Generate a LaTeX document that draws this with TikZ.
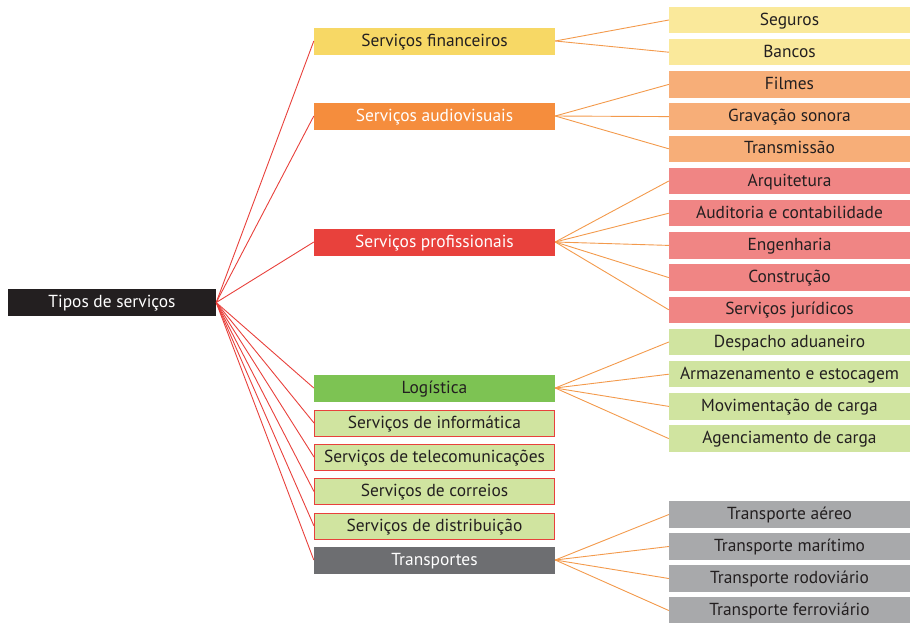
\documentclass[tikz,border=0pt]{standalone}
\usepackage{fontspec}
\setmainfont{PT Sans}
\definecolor{rootc}{HTML}{231F20}
\definecolor{finc}{HTML}{F7D865}
\definecolor{finl}{HTML}{FAE99B}
\definecolor{audc}{HTML}{F58D3D}
\definecolor{audl}{HTML}{F7AE78}
\definecolor{proc}{HTML}{E8413C}
\definecolor{prol}{HTML}{F08584}
\definecolor{logc}{HTML}{7DC353}
\definecolor{logl}{HTML}{D0E4A0}
\definecolor{trac}{HTML}{6D6E71}
\definecolor{tral}{HTML}{A8A9AB}
\definecolor{redline}{HTML}{E8413C}
\definecolor{orline}{HTML}{F39A4C}
\definecolor{txt}{HTML}{231F20}
\begin{document}
\begin{tikzpicture}[x=1pt,y=-1pt,
  box/.style={inner sep=0pt,minimum height=27pt,font=\fontsize{17.4}{19}\selectfont,text=txt,text height=11pt,text depth=1pt},
  rootbox/.style={box,minimum width=208pt,fill=rootc,text=white},
  midbox/.style={box,minimum width=241pt},
  lgbox/.style={midbox,fill=logl,draw=redline,line width=1pt,minimum width=240pt,minimum height=26pt},
  leafbox/.style={box,minimum width=241pt,minimum height=26.5pt},
  redlink/.style={draw=redline,line width=0.9pt},
  orlink/.style={draw=orline,line width=0.9pt}]
\useasboundingbox (0,0) rectangle (910,622);
\node[rootbox] (root) at (112,302.5) {Tipos de serviços};
% middle column
\node[midbox,fill=finc] (fin) at (434.5,41) {Serviços financeiros};
\node[midbox,fill=audc,text=white] (aud) at (434.5,116) {Serviços audiovisuais};
\node[midbox,fill=proc,text=white] (pro) at (434.5,242) {Serviços profissionais};
\node[midbox,fill=logc] (log) at (434.5,388) {Logística};
\node[lgbox] (inf) at (434.5,423) {Serviços de informática};
\node[lgbox] (tel) at (434.5,457) {Serviços de telecomunicações};
\node[lgbox] (cor) at (434.5,491.5) {Serviços de correios};
\node[lgbox] (dis) at (434.5,526) {Serviços de distribuição};
\node[midbox,fill=trac,text=white] (tra) at (434.5,560) {Transportes};
% leaves
\node[leafbox,fill=finl] (seg) at (789.5,20) {Seguros};
\node[leafbox,fill=finl] (ban) at (789.5,52.2) {Bancos};
\node[leafbox,fill=audl] (fil) at (789.5,84.4) {Filmes};
\node[leafbox,fill=audl] (gra) at (789.5,116.6) {Gravação sonora};
\node[leafbox,fill=audl] (trm) at (789.5,148.8) {Transmissão};
\node[leafbox,fill=prol] (arq) at (789.5,181) {Arquitetura};
\node[leafbox,fill=prol] (aud2) at (789.5,213.2) {Auditoria e contabilidade};
\node[leafbox,fill=prol] (eng) at (789.5,245.4) {Engenharia};
\node[leafbox,fill=prol] (con) at (789.5,277.6) {Construção};
\node[leafbox,fill=prol] (jur) at (789.5,309.8) {Serviços jurídicos};
\node[leafbox,fill=logl] (des) at (789.5,342) {Despacho aduaneiro};
\node[leafbox,fill=logl] (arm) at (789.5,374.2) {Armazenamento e estocagem};
\node[leafbox,fill=logl] (mov) at (789.5,406.4) {Movimentação de carga};
\node[leafbox,fill=logl] (age) at (789.5,438.6) {Agenciamento de carga};
\node[leafbox,fill=tral] (aer) at (789.5,514.5) {Transporte aéreo};
\node[leafbox,fill=tral] (mar) at (789.5,546.5) {Transporte marítimo};
\node[leafbox,fill=tral] (rod) at (789.5,578.5) {Transporte rodoviário};
\node[leafbox,fill=tral] (fer) at (789.5,610.5) {Transporte ferroviário};
% red links
\foreach \m in {fin,aud,pro,log,inf,tel,cor,dis,tra}
  \draw[redlink] (root.east) -- (\m.west);
% orange links
\foreach \p/\c in {fin/seg,fin/ban,aud/fil,aud/gra,aud/trm,pro/arq,pro/aud2,pro/eng,pro/con,pro/jur,log/des,log/arm,log/mov,log/age,tra/aer,tra/mar,tra/rod,tra/fer}
  \draw[orlink] (\p.east) -- (\c.west);
\end{tikzpicture}
\end{document}
